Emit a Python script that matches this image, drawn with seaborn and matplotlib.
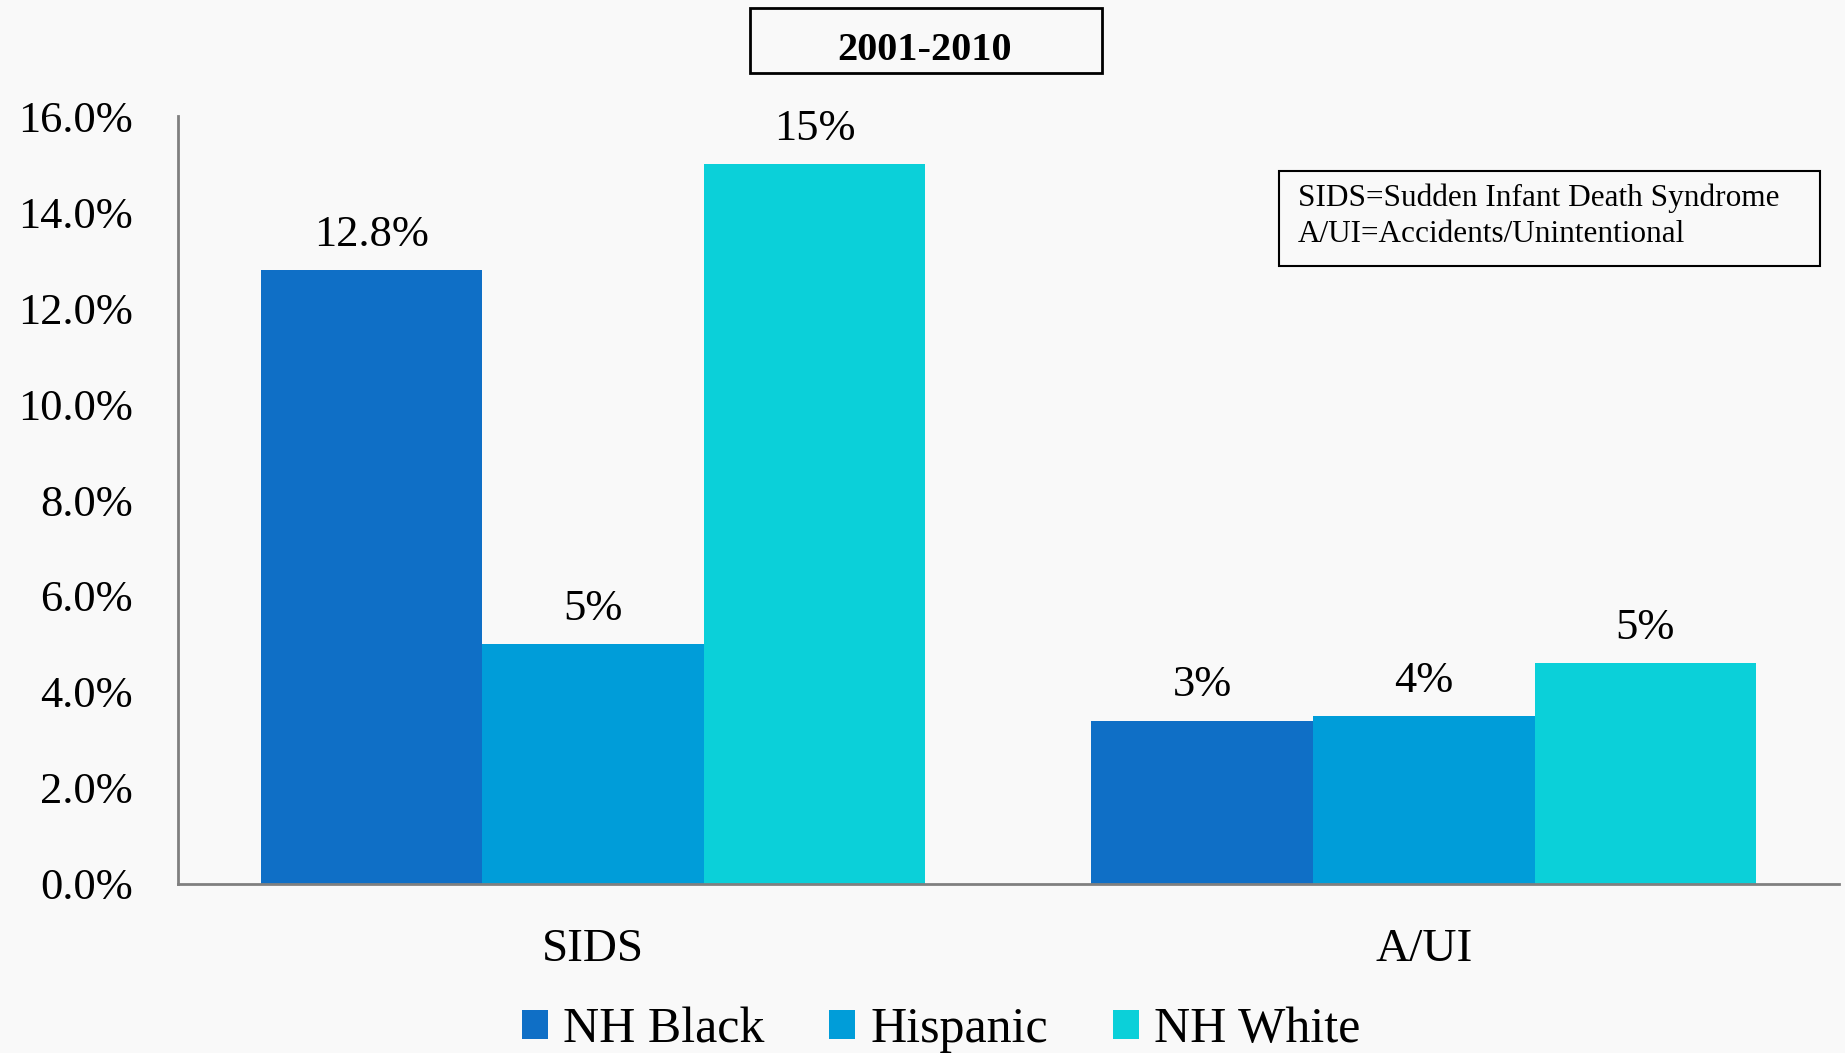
import matplotlib
matplotlib.use("Agg")
import matplotlib.pyplot as plt
from matplotlib.patches import Rectangle
import pandas as pd
import seaborn as sns

# Share of infant deaths by cause and race/ethnicity, 2001-2010
causes = ["SIDS", "A/UI"]
groups = ["NH Black", "Hispanic", "NH White"]
nh_black = [12.8, 3.4]
hispanic = [5.0, 3.5]
nh_white = [15.0, 4.6]
value_labels = {
    "NH Black": ["12.8%", "3%"],
    "Hispanic": ["5%", "4%"],
    "NH White": ["15%", "5%"],
}
y_ticks = [0, 2, 4, 6, 8, 10, 12, 14, 16]
colors = ["#0F6FC6", "#009DD9", "#0BD0D9"]

df = pd.DataFrame({
    "cause": causes * 3,
    "group": [g for g in groups for _ in causes],
    "pct": nh_black + hispanic + nh_white,
})

sns.set_theme(style="white")
plt.rcParams["font.family"] = ["Liberation Serif", "DejaVu Serif"]
plt.rcParams["text.color"] = "black"
plt.rcParams["xtick.color"] = "black"
plt.rcParams["ytick.color"] = "black"
bg = "#f9f9f9"

fig = plt.figure(figsize=(18.45, 10.53), dpi=100, facecolor=bg)
ax = fig.add_axes([0.0963, 0.1608, 0.9005, 0.7286])
ax.set_facecolor(bg)

sns.barplot(data=df, x="cause", y="pct", hue="group", hue_order=groups,
            order=causes, palette=colors, saturation=1, width=0.8,
            linewidth=0, ax=ax)

ax.set_xlim(-0.5, 1.5)
ax.set_ylim(0, 16)
ax.set_yticks(y_ticks)
ax.set_yticklabels([f"{t:.1f}%" for t in y_ticks], fontsize=32)
ax.tick_params(axis="y", length=0, pad=32, labelcolor="black")
ax.tick_params(axis="x", length=0, pad=32, labelsize=34, labelcolor="black")
ax.set_xlabel("")
ax.set_ylabel("")
for side in ["top", "right"]:
    ax.spines[side].set_visible(False)
for side in ["left", "bottom"]:
    ax.spines[side].set_color("#808080")
    ax.spines[side].set_linewidth(2)

for cont, g in zip(ax.containers, groups):
    ax.bar_label(cont, labels=value_labels[g], padding=11, fontsize=32,
                 color="black")

# legend along the bottom edge
handles, labels = ax.get_legend_handles_labels()
leg = ax.legend(handles, labels, loc="center", bbox_to_anchor=(0.51, 0.022),
                bbox_transform=fig.transFigure, ncol=3, frameon=False,
                fontsize=36, handlelength=0.52, handleheight=0.52,
                handletextpad=0.3, columnspacing=1.3, borderaxespad=0)
for t in leg.get_texts():
    t.set_color("black")

# period title box
fig.patches.append(Rectangle((749.5 / 1845, 1 - 73 / 1053), 352 / 1845, 65 / 1053,
                             transform=fig.transFigure, fill=False,
                             edgecolor="black", linewidth=2))
fig.text(925 / 1845, 1 - 51 / 1053, "2001-2010", ha="center", va="center",
         fontsize=29, fontweight="bold")

# abbreviation key box
fig.patches.append(Rectangle((1279 / 1845, 1 - 266 / 1053), 541 / 1845, 95 / 1053,
                             transform=fig.transFigure, fill=False,
                             edgecolor="black", linewidth=1.5))
fig.text(1298 / 1845, 1 - 216 / 1053,
         "SIDS=Sudden Infant Death Syndrome\nA/UI=Accidents/Unintentional",
         ha="left", va="center", fontsize=22.5, linespacing=1.3)

fig.savefig("out.png", dpi=100, facecolor=bg)
